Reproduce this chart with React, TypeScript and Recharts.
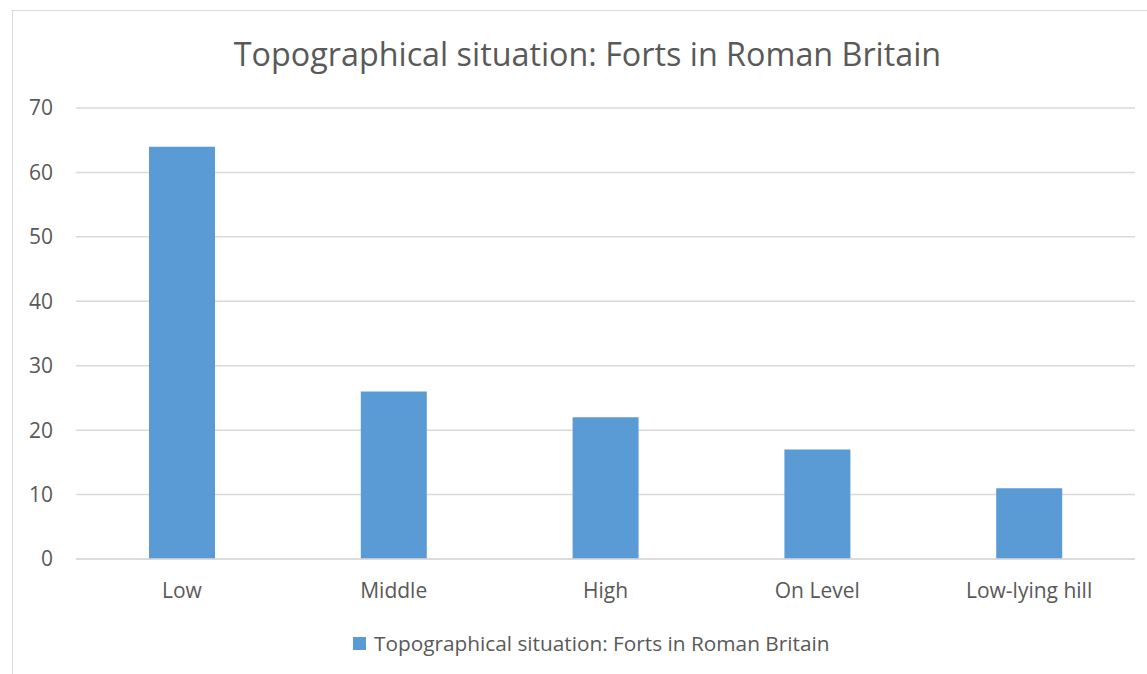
import React from "react";
import { BarChart, Bar, XAxis, YAxis, CartesianGrid, Legend } from "recharts";

const categories = ["Low", "Middle", "High", "On Level", "Low-lying hill"];
const forts = [64, 26, 22, 17, 11];
const yTicks = [0, 10, 20, 30, 40, 50, 60, 70];
const seriesName = "Topographical situation: Forts in Roman Britain";
const title = "Topographical situation: Forts in Roman Britain";

const data = categories.map((c, i) => ({ name: c, value: forts[i] }));

const FONT = "'Open Sans', 'Noto Sans', sans-serif";
const TEXT = "#595959";
const BAR = "#5B9BD5";

const LegendContent = () => (
  <div style={{ display: "flex", alignItems: "center", fontFamily: FONT, fontSize: 20.8, color: TEXT, whiteSpace: "nowrap", lineHeight: "28px" }}>
    <span style={{ display: "inline-block", width: 13, height: 13, background: BAR, marginRight: 8 }} />
    <span>{seriesName}</span>
  </div>
);

export default function App() {
  return (
    <div style={{ position: "absolute", left: 0, top: 0, width: 1147, height: 674, background: "#fff", overflow: "hidden" }}>
      <div style={{ position: "absolute", left: 12, top: 10, width: 1200, height: 700, border: "1.5px solid #d9d9d9", boxSizing: "border-box" }} />
      <div style={{ position: "absolute", left: 0, top: 31, width: 1175, textAlign: "center", fontFamily: FONT, fontSize: 32.3, color: TEXT }}>
        {title}
      </div>
      <div style={{ position: "absolute", left: 0, top: 0 }}>
        <BarChart width={1147} height={674} data={data} margin={{ top: 108, right: 12, bottom: 85, left: 0 }} barCategoryGap="34%">
          <CartesianGrid vertical={false} stroke="#d9d9d9" strokeWidth={1.5} />
          <XAxis dataKey="name" axisLine={{ stroke: "#d9d9d9", strokeWidth: 1.5 }} tickLine={false} tickSize={0} tickMargin={24} height={30}
            tick={{ fill: TEXT, fontSize: 21, fontFamily: FONT }} interval={0} />
          <YAxis domain={[0, 70]} ticks={yTicks} axisLine={false} tickLine={false} tickSize={0} tickMargin={23} width={76}
            tick={{ fill: TEXT, fontSize: 21, fontFamily: FONT }} />
          <Legend verticalAlign="middle" align="center" layout="horizontal" content={<LegendContent />}
            wrapperStyle={{ top: 629, left: 353, width: "auto" }} />
          <Bar dataKey="value" name={seriesName} fill={BAR} barSize={66} isAnimationActive={false} />
        </BarChart>
      </div>
    </div>
  );
}
